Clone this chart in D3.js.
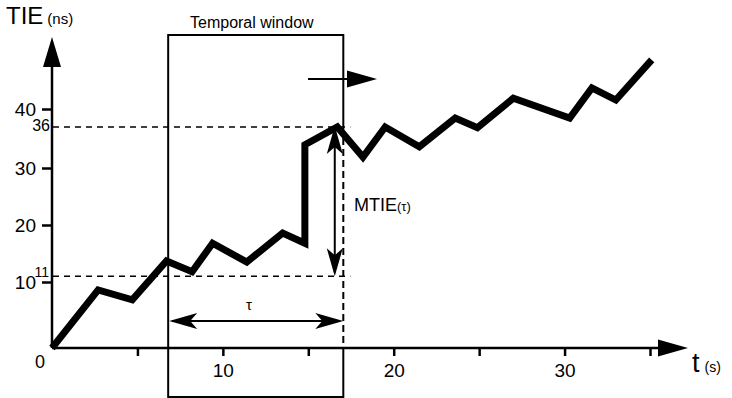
<!DOCTYPE html>
<html>
<head>
<meta charset="utf-8">
<script src="https://cdn.jsdelivr.net/npm/d3@7"></script>
<style>
  body { margin: 0; background: #fff; }
  svg { display: block; font-family: "Liberation Sans", Arial, sans-serif; }
</style>
</head>
<body>
<svg id="chart"></svg>
<script>
// TIE curve (t in s, TIE in ns)
const times = [0, 2.7, 4.7, 6.7, 8.2, 9.4, 11.4, 13.5, 14.8, 14.8, 16.7, 18.2, 19.5, 21.5, 23.6, 24.9, 27.0, 30.3, 31.6, 33.0, 35.1];
const tie   = [0, 8.8, 7.3, 13.7, 11.8, 16.8, 13.5, 18.6, 16.8, 33.4, 36, 31.6, 36, 33.1, 38, 35.9, 42.4, 38, 44.7, 42, 50.9];

const yTicks = [10, 20, 30, 40];
const xTicks = [5, 10, 15, 20, 25, 30, 35];
const xLabels = [10, 20, 30];

// temporal window and the two marked levels
const windowStart = 6.8, windowEnd = 17.05;
const mtieTime = 16.55;
const tieMax = 36, tieMin = 11;

const width = 732, height = 398;
const svg = d3.select('#chart').attr('width', width).attr('height', height);

const x = d3.scaleLinear().domain([0, 35]).range([52, 650]);
// the drawing is not quite linear, so knots follow the printed ticks
const y = d3.scaleLinear().domain([0, 10, 20, 30, 36, 40]).range([348, 282, 225, 168, 127, 109]);

// axes
const yAxis = svg.append('g')
  .attr('transform', `translate(${x(0)},0)`)
  .call(d3.axisLeft(y).tickValues(yTicks).tickSize(10).tickPadding(6));
yAxis.select('.domain').remove();
yAxis.selectAll('line').attr('stroke', '#000').attr('stroke-width', 2.5);
yAxis.selectAll('text').attr('font-size', 19).attr('fill', '#000')
  .attr('font-family', '"Liberation Sans", Arial, sans-serif');

const xAxis = svg.append('g')
  .attr('transform', `translate(0,${y(0)})`)
  .call(d3.axisBottom(x).tickValues(xTicks).tickSize(8).tickPadding(8)
    .tickFormat(d => xLabels.includes(d) ? d : ''));
xAxis.select('.domain').remove();
xAxis.selectAll('line').attr('stroke', '#000').attr('stroke-width', 2.5);
xAxis.selectAll('text').attr('font-size', 19).attr('fill', '#000')
  .attr('font-family', '"Liberation Sans", Arial, sans-serif');

// axis lines with filled arrowheads
svg.append('line').attr('x1', x(0)).attr('x2', 660).attr('y1', y(0)).attr('y2', y(0))
  .attr('stroke', '#000').attr('stroke-width', 2.5);
svg.append('path').attr('d', `M658,${y(0) - 8.5}L688,${y(0)}L658,${y(0) + 8.5}Z`).attr('fill', '#000');

svg.append('line').attr('x1', x(0)).attr('x2', x(0)).attr('y1', y(0)).attr('y2', 65)
  .attr('stroke', '#000').attr('stroke-width', 2.5);
svg.append('path').attr('d', `M${x(0) - 9},67L${x(0)},37L${x(0) + 9},67Z`).attr('fill', '#000');

// axis titles
const t1 = svg.append('text').attr('x', 6).attr('y', 24).attr('font-size', 24).attr('fill', '#000');
t1.append('tspan').text('TIE');
t1.append('tspan').attr('font-size', 15).attr('dx', 4).text('(ns)');

const t2 = svg.append('text').attr('x', 692).attr('y', 372).attr('font-size', 27).attr('fill', '#000');
t2.append('tspan').text('t');
t2.append('tspan').attr('font-size', 14).attr('dx', 5).text('(s)');

svg.append('text').attr('x', 35).attr('y', 368).attr('font-size', 18).text('0');

// dashed guide levels
[tieMax, tieMin].forEach(v => {
  svg.append('line')
    .attr('x1', x(0) + 1).attr('x2', x(windowEnd) + 7)
    .attr('y1', y(v)).attr('y2', y(v))
    .attr('stroke', '#000').attr('stroke-width', 1.5).attr('stroke-dasharray', '6,5');
});
svg.append('text').attr('x', 50).attr('y', y(tieMax) + 4).attr('text-anchor', 'end')
  .attr('font-size', 16).text(tieMax);
svg.append('text').attr('x', 49).attr('y', y(tieMin) + 1).attr('text-anchor', 'end')
  .attr('font-size', 14).text(tieMin);

// temporal window box
const wl = x(windowStart), wr = x(windowEnd), wt = 35, wb = 397;
svg.append('path')
  .attr('d', `M${wr},${y(tieMax)}L${wr},${wt}L${wl},${wt}L${wl},${wb}L${wr},${wb}L${wr},${y(0)}`)
  .attr('fill', 'none').attr('stroke', '#000').attr('stroke-width', 2);
svg.append('line').attr('x1', wr).attr('x2', wr).attr('y1', y(tieMax)).attr('y2', y(0))
  .attr('stroke', '#000').attr('stroke-width', 2).attr('stroke-dasharray', '7,4');
svg.append('text').attr('x', 190).attr('y', 28).attr('font-size', 16).text('Temporal window');

// sliding arrow
svg.append('line').attr('x1', 308).attr('x2', 349).attr('y1', 79).attr('y2', 79)
  .attr('stroke', '#000').attr('stroke-width', 2);
svg.append('path').attr('d', 'M347,70.5L377,79L347,87.5Z').attr('fill', '#000');

// barbed arrowhead, tip at origin pointing along +x
const head = 'M0,0L-28,-8L-21,0L-28,8Z';

// tau
const ty = 321;
svg.append('line').attr('x1', wl + 4).attr('x2', wr - 4).attr('y1', ty).attr('y2', ty)
  .attr('stroke', '#000').attr('stroke-width', 2);
svg.append('path').attr('d', head).attr('transform', `translate(${wr},${ty})`).attr('fill', '#000');
svg.append('path').attr('d', head).attr('transform', `translate(${wl + 1},${ty}) rotate(180)`).attr('fill', '#000');
svg.append('text').attr('x', 249).attr('y', 310).attr('text-anchor', 'middle').attr('font-size', 15).text('τ');

// MTIE
const mx = x(mtieTime);
svg.append('line').attr('x1', mx).attr('x2', mx).attr('y1', y(tieMax) + 4).attr('y2', y(tieMin) - 4)
  .attr('stroke', '#000').attr('stroke-width', 2);
svg.append('path').attr('d', head).attr('transform', `translate(${mx},${y(tieMax) - 1}) rotate(-90)`).attr('fill', '#000');
svg.append('path').attr('d', head).attr('transform', `translate(${mx},${y(tieMin)}) rotate(90)`).attr('fill', '#000');
const mt = svg.append('text').attr('x', 354).attr('y', 211).attr('font-size', 18);
mt.append('tspan').text('MTIE');
mt.append('tspan').attr('font-size', 13).text('(τ)');

// TIE curve
const data = times.map((t, i) => ({t, v: tie[i]}));
svg.append('path')
  .datum(data)
  .attr('d', d3.line().x(d => x(d.t)).y(d => y(d.v)))
  .attr('fill', 'none')
  .attr('stroke', '#000')
  .attr('stroke-width', 7)
  .attr('stroke-linejoin', 'miter')
  .attr('stroke-miterlimit', 6);
</script>
</body>
</html>
